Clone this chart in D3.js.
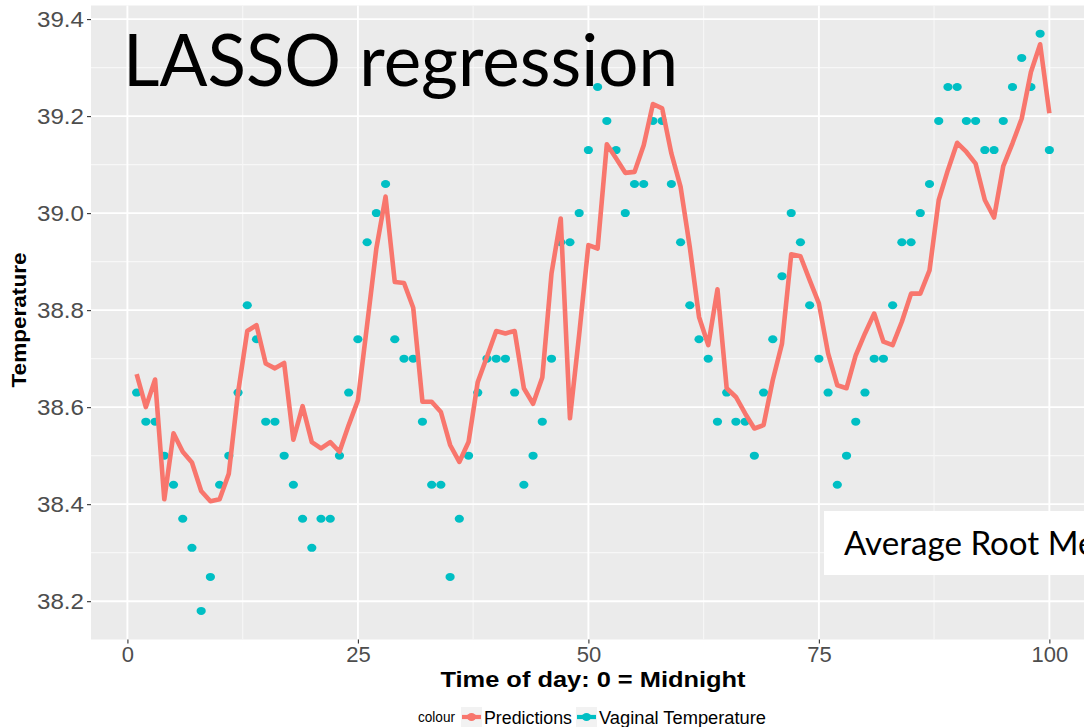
<!DOCTYPE html>
<html><head><meta charset="utf-8">
<script src="https://cdn.jsdelivr.net/npm/d3@7"></script>
<style>html,body{margin:0;padding:0;background:#fff;overflow:hidden}</style>
</head><body>
<svg id="chart" width="1084" height="727" style="display:block"></svg>
<script>
// ---------------- data ----------------
const timeOfDay = [1,2,3,4,5,6,7,8,9,10,11,12,13,14,15,16,17,18,19,20,
  21,22,23,24,25,26,27,28,29,30,31,32,33,34,35,36,37,38,39,40,
  41,42,43,44,45,46,47,48,49,50,51,52,53,54,55,56,57,58,59,60,
  61,62,63,64,65,66,67,68,69,70,71,72,73,74,75,76,77,78,79,80,
  81,82,83,84,85,86,87,88,89,90,91,92,93,94,95,96,97,98,99,100];

const vaginalTemperature = [38.63,38.57,38.57,38.50,38.44,38.37,38.31,38.18,38.25,38.44,
  38.50,38.63,38.81,38.74,38.57,38.57,38.50,38.44,38.37,38.31,
  38.37,38.37,38.50,38.63,38.74,38.94,39.00,39.06,38.74,38.70,
  38.70,38.57,38.44,38.44,38.25,38.37,38.50,38.63,38.70,38.70,
  38.70,38.63,38.44,38.50,38.57,38.70,38.94,38.94,39.00,39.13,
  39.26,39.19,39.13,39.00,39.06,39.06,39.19,39.19,39.06,38.94,
  38.81,38.74,38.70,38.57,38.63,38.57,38.57,38.50,38.63,38.74,
  38.87,39.00,38.94,38.81,38.70,38.63,38.44,38.50,38.57,38.63,
  38.70,38.70,38.81,38.94,38.94,39.00,39.06,39.19,39.26,39.26,
  39.19,39.19,39.13,39.13,39.19,39.26,39.32,39.26,39.37,39.13];

const predictions = [38.668,38.600,38.657,38.410,38.546,38.508,38.486,38.427,38.406,38.410,
  38.463,38.630,38.757,38.769,38.690,38.680,38.691,38.533,38.602,38.528,
  38.515,38.528,38.508,38.563,38.614,38.770,38.927,39.034,38.858,38.856,
  38.805,38.611,38.611,38.590,38.522,38.487,38.528,38.652,38.704,38.757,
  38.752,38.757,38.639,38.607,38.661,38.876,38.989,38.577,38.750,38.934,
  38.927,39.142,39.113,39.083,39.085,39.140,39.225,39.216,39.123,39.054,
  38.930,38.786,38.728,38.843,38.639,38.621,38.587,38.556,38.563,38.656,
  38.731,38.915,38.911,38.862,38.814,38.711,38.645,38.639,38.707,38.752,
  38.793,38.735,38.728,38.776,38.834,38.834,38.882,39.027,39.089,39.145,
  39.126,39.102,39.027,38.991,39.097,39.144,39.195,39.291,39.348,39.206];

const xTicks = [0, 25, 50, 75, 100];
const xMinorTicks = [12.5, 37.5, 62.5, 87.5];
const yTicks = [38.2, 38.4, 38.6, 38.8, 39.0, 39.2, 39.4];
const yMinorTicks = [38.3, 38.5, 38.7, 38.9, 39.1, 39.3];

const titleText = "LASSO regression";
const rmseText = "Average Root Mean Squared Error";
const xLabel = "Time of day: 0 = Midnight";
const yLabel = "Temperature";
const legendTitle = "colour";
const seriesNames = ["Predictions", "Vaginal Temperature"];
const seriesColors = ["#F8766D", "#00BFC4"];

// ---------------- layout ----------------
const svg = d3.select("#chart");
const panel = {left: 91, right: 1095, top: 5.5, bottom: 639.5};
const x = d3.scaleLinear().domain([-3.95, 104.95]).range([panel.left, panel.right]);
const y = d3.scaleLinear().domain([38.121, 39.428]).range([panel.bottom, panel.top]);
const AX = "'Liberation Sans', Arial, sans-serif";

svg.append("rect").attr("x", 0).attr("y", 0).attr("width", 1084).attr("height", 727).attr("fill", "#fff");
svg.append("rect").attr("x", panel.left).attr("y", panel.top)
  .attr("width", panel.right - panel.left).attr("height", panel.bottom - panel.top)
  .attr("fill", "#EBEBEB");

// grid
const grid = svg.append("g");
grid.selectAll(".ymin").data(yMinorTicks).join("line")
  .attr("x1", panel.left).attr("x2", panel.right).attr("y1", d => y(d)).attr("y2", d => y(d))
  .attr("stroke", "#F7F7F7").attr("stroke-width", 1.1);
grid.selectAll(".xmin").data(xMinorTicks).join("line")
  .attr("y1", panel.top).attr("y2", panel.bottom).attr("x1", d => x(d)).attr("x2", d => x(d))
  .attr("stroke", "#F7F7F7").attr("stroke-width", 1.1);
grid.selectAll(".ymaj").data(yTicks).join("line")
  .attr("x1", panel.left).attr("x2", panel.right).attr("y1", d => y(d)).attr("y2", d => y(d))
  .attr("stroke", "#fff").attr("stroke-width", 1.9);
grid.selectAll(".xmaj").data(xTicks).join("line")
  .attr("y1", panel.top).attr("y2", panel.bottom).attr("x1", d => x(d)).attr("x2", d => x(d))
  .attr("stroke", "#fff").attr("stroke-width", 1.9);

// axes
const yAxis = svg.append("g").attr("transform", `translate(${panel.left},0)`)
  .call(d3.axisLeft(y).tickValues(yTicks).tickFormat(d3.format(".1f")).tickSize(4).tickPadding(3));
const xAxis = svg.append("g").attr("transform", `translate(0,${panel.bottom})`)
  .call(d3.axisBottom(x).tickValues(xTicks).tickFormat(d3.format("d")).tickSize(4).tickPadding(3));
[yAxis, xAxis].forEach(a => {
  a.select(".domain").remove();
  a.selectAll(".tick line").attr("stroke", "#333333").attr("stroke-width", 1.1);
  a.selectAll(".tick text").attr("fill", "#4D4D4D").style("font-family", AX).style("font-size", "22px");
});
yAxis.selectAll(".tick text").attr("textLength", 47).attr("lengthAdjust", "spacingAndGlyphs");

// points (drawn beneath the line)
const pts = timeOfDay.map((t, i) => ({t, v: vaginalTemperature[i]}));
svg.append("g").selectAll("ellipse").data(pts).join("ellipse")
  .attr("cx", d => x(d.t)).attr("cy", d => y(d.v)).attr("rx", 4.6).attr("ry", 4.0)
  .attr("fill", seriesColors[1]);

// predictions line
const predData = timeOfDay.map((t, i) => ({t, v: predictions[i]}));
svg.append("path").datum(predData)
  .attr("d", d3.line().x(d => x(d.t)).y(d => y(d.v)))
  .attr("fill", "none").attr("stroke", seriesColors[0]).attr("stroke-width", 4.6)
  .attr("stroke-linejoin", "round").attr("stroke-linecap", "butt");

// axis titles
svg.append("text").attr("x", 593).attr("y", 686.5).attr("text-anchor", "middle")
  .style("font-family", AX).style("font-weight", "bold").style("font-size", "22px")
  .attr("textLength", 305).attr("lengthAdjust", "spacingAndGlyphs")
  .attr("fill", "#000").text(xLabel);
svg.append("text").attr("transform", "translate(26,320) rotate(-90)").attr("text-anchor", "middle")
  .style("font-family", AX).style("font-weight", "bold").style("font-size", "21px")
  .attr("textLength", 135).attr("lengthAdjust", "spacingAndGlyphs")
  .attr("fill", "#000").text(yLabel);

// legend
const lg = svg.append("g");
lg.append("text").attr("x", 418).attr("y", 722).style("font-family", AX).style("font-size", "14px")
  .attr("textLength", 37).attr("lengthAdjust", "spacingAndGlyphs").attr("fill", "#000").text(legendTitle);
const keyX = [461, 576];
const labelX = [484, 599];
const labelW = [88, 167];
seriesNames.forEach((name, i) => {
  lg.append("rect").attr("x", keyX[i]).attr("y", 707).attr("width", 21).attr("height", 20).attr("fill", "#F2F2F2");
  lg.append("line").attr("x1", keyX[i] + 1).attr("x2", keyX[i] + 20).attr("y1", 717).attr("y2", 717)
    .attr("stroke", seriesColors[i]).attr("stroke-width", 4.2);
  lg.append("ellipse").attr("cx", keyX[i] + 10.5).attr("cy", 717).attr("rx", 4.6).attr("ry", 4.0).attr("fill", seriesColors[i]);
  lg.append("text").attr("x", labelX[i]).attr("y", 723.5).style("font-family", AX).style("font-size", "17.5px")
    .attr("textLength", labelW[i]).attr("lengthAdjust", "spacingAndGlyphs").attr("fill", "#000").text(name);
});

// overlay title
svg.append("text").attr("x", 123).attr("y", 86).style("font-family", "Lato, 'Open Sans', sans-serif")
  .style("font-size", "71px").attr("textLength", 555).attr("lengthAdjust", "spacingAndGlyphs")
  .attr("fill", "#000").text(titleText);

// RMSE box (runs off the right edge, as in the reference)
svg.append("rect").attr("x", 824).attr("y", 511).attr("width", 300).attr("height", 64).attr("fill", "#fff");
const rm = svg.append("text").attr("x", 844).attr("y", 555)
  .style("font-family", "Lato, 'Open Sans', sans-serif").style("font-size", "33px")
  .attr("fill", "#000").text(rmseText);
try {
  const w = rm.node().getSubStringLength(0, 14);
  if (w > 0) rm.style("font-size", (33 * 234 / w).toFixed(2) + "px");
} catch (e) {}
</script>
</body></html>
